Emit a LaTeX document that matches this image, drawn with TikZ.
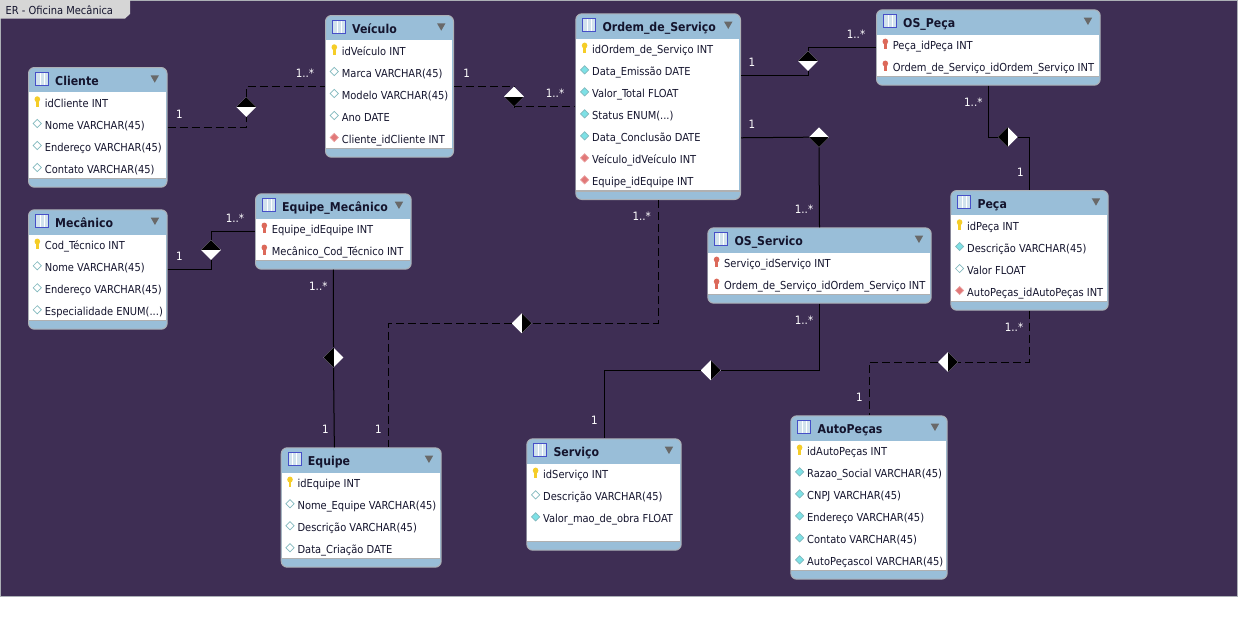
\documentclass[tikz,border=0pt]{standalone}
\usepackage{fontspec}
\setmainfont{DejaVu Sans Condensed}
\usetikzlibrary{positioning,calc,shapes.geometric}
\definecolor{erPurple}{RGB}{62,46,84}
\definecolor{erHead}{RGB}{153,190,216}
\definecolor{erEdge}{RGB}{172,176,182}
\definecolor{erRule}{RGB}{176,176,176}
\definecolor{erInk}{RGB}{20,20,45}
\definecolor{erTab}{RGB}{214,214,214}
\definecolor{erArrow}{RGB}{105,105,105}
\definecolor{erIcon}{RGB}{70,80,200}
\definecolor{erGold}{RGB}{245,205,40}
\definecolor{erCoral}{RGB}{220,105,90}
\definecolor{erTeal}{RGB}{130,185,190}
\definecolor{erCyan}{RGB}{125,225,230}
\definecolor{erPink}{RGB}{225,120,120}
\tikzset{
    ertable/.style={rectangle, rounded corners=6pt, draw=erEdge, line width=1pt, fill=erHead, anchor=north west, inner sep=0pt},
    erbody/.style={rectangle, fill=white, anchor=north west, inner sep=0pt},
    ertitle/.style={anchor=base west, inner sep=0pt, font=\fontsize{12.2}{14}\selectfont\bfseries, text=erInk},
    errow/.style={anchor=base west, inner sep=0pt, font=\fontsize{11}{13}\selectfont, text=erInk},
    erglyph/.style={rectangle, draw=erIcon, line width=1pt, fill=erHead!45, minimum size=13pt, inner sep=0pt,
                    path picture={\draw[white, line width=.7pt] ([xshift=-2pt]path picture bounding box.north) -- ([xshift=-2pt]path picture bounding box.south)
                                  ([xshift=2pt]path picture bounding box.north) -- ([xshift=2pt]path picture bounding box.south);}},
    keypin/.style={rectangle, minimum width=7pt, minimum height=10.5pt, inner sep=0pt,
                   path picture={\fill[#1] ([yshift=-3pt]path picture bounding box.north) circle[x radius=2.8pt, y radius=3pt];
                                 \fill[#1] ([xshift=-1.2pt,yshift=-4pt]path picture bounding box.north) rectangle ([xshift=1.2pt]path picture bounding box.south);}},
    pkey/.style={keypin=erGold},
    fkey/.style={keypin=erCoral},
    coldot/.style={diamond, minimum width=8.5pt, minimum height=8.5pt, inner sep=0pt, line width=.7pt, draw=erTeal},
    plain/.style={coldot, fill=white},
    notnull/.style={coldot, fill=erCyan},
    fcol/.style={coldot, draw=erPink!70, fill=erPink},
    rel/.style={diamond, minimum width=20pt, minimum height=20pt, inner sep=0pt, fill=white},
    reltop/.style={rel, path picture={\fill[black] (path picture bounding box.north west) rectangle (path picture bounding box.east);}},
    relbottom/.style={rel, path picture={\fill[black] (path picture bounding box.west) rectangle (path picture bounding box.south east);}},
    relleft/.style={rel, path picture={\fill[black] (path picture bounding box.north west) rectangle (path picture bounding box.south);}},
    relright/.style={rel, path picture={\fill[black] (path picture bounding box.north) rectangle (path picture bounding box.south east);}},
    solidlink/.style={line width=1pt, color=black},
    dashlink/.style={solidlink, dash pattern=on 8pt off 4pt},
    card/.style={inner sep=0pt, text=white, font=\fontsize{11.5}{13}\selectfont}
}
\def\edots{...}
% name, x0, y0, x1, y1, title, rows
\newcommand{\ertable}[7]{
  \node[ertable, minimum width={(#4-#2)*1pt}, minimum height={(#5-#3)*1pt}] (#1) at (#2,#3) {};
  \node[erbody, minimum width={(#4-#2-1.6)*1pt}, minimum height={(#5-#3-33.5)*1pt}] (#1-body) at ({#2+.8},{#3+25}) {};
  \draw[erRule, line width=1.4pt] (#1-body.south west) -- (#1-body.south east);
  \node[erglyph] (#1-glyph) at ({#2+14},{#3+12}) {};
  \node[ertitle] (#1-title) at ({#2+27},{#3+18}) {#6};
  \fill[erArrow] ({#4-16},{#3+8.3}) -- ({#4-7.5},{#3+8.3}) -- ({#4-11.75},{#3+15.7}) -- cycle;
  \foreach \kind/\txt [count=\i] in {#7} {
    \pgfmathsetmacro{\rowy}{#3+40+22*(\i-1)}
    \node[\kind] (#1-icon\i) at ({#2+9.3},{\rowy-5.5}) {};
    \node[errow] (#1-row\i) at ({#2+16.7},\rowy) {\txt};
  }
}
\begin{document}
\begin{tikzpicture}[x=1pt,y=-1pt]
  \useasboundingbox (0,0) rectangle (1257,616);
  \fill[white] (0,0) rectangle (1257,616);
  \filldraw[fill=erPurple, draw=erEdge, line width=1pt] (.5,.5) rectangle (1237,596.7);

  % Tab
  \fill[erTab] (0,0) -- (130,0) -- (130,14) -- (125,18.5) -- (0,18.5) -- cycle;
  \node[anchor=base west, inner sep=0pt, font=\fontsize{11}{13}\selectfont, text=erInk] (tabname) at (5.5,14) {ER - Oficina Mecânica};

  % Tables
  \ertable{cliente}{28}{67}{166.5}{186.7}{Cliente}{pkey/idCliente INT, plain/Nome VARCHAR(45), plain/Endereço VARCHAR(45), plain/Contato VARCHAR(45)}
  \ertable{veiculo}{325}{15}{453}{156.7}{Veículo}{pkey/idVeículo INT, plain/Marca VARCHAR(45), plain/Modelo VARCHAR(45), plain/Ano DATE, fcol/Cliente\_idCliente INT}
  \ertable{ordem}{575.3}{13.3}{740}{199}{Ordem\_de\_Serviço}{pkey/idOrdem\_de\_Serviço INT, notnull/Data\_Emissão DATE, notnull/Valor\_Total FLOAT, notnull/Status ENUM(\edots), notnull/Data\_Conclusão DATE, fcol/Veículo\_idVeículo INT, fcol/Equipe\_idEquipe INT}
  \ertable{ospeca}{876}{9.3}{1099.7}{84.7}{OS\_Peça}{fkey/Peça\_idPeça INT, fkey/Ordem\_de\_Serviço\_idOrdem\_Serviço INT}
  \ertable{peca}{950.3}{190}{1107.7}{309.7}{Peça}{pkey/idPeça INT, notnull/Descrição VARCHAR(45), plain/Valor FLOAT, fcol/AutoPeças\_idAutoPeças INT}
  \ertable{mecanico}{28}{209.3}{166.7}{328.7}{Mecânico}{pkey/Cod\_Técnico INT, plain/Nome VARCHAR(45), plain/Endereço VARCHAR(45), plain/Especialidade ENUM(\edots)}
  \ertable{eqmec}{255}{193.3}{410.7}{268.7}{Equipe\_Mecânico}{fkey/Equipe\_idEquipe INT, fkey/Mecânico\_Cod\_Técnico INT}
  \ertable{equipe}{280.7}{447.3}{440.7}{566.7}{Equipe}{pkey/idEquipe INT, plain/Nome\_Equipe VARCHAR(45), plain/Descrição VARCHAR(45), plain/Data\_Criação DATE}
  \ertable{osservico}{707.3}{227.3}{930.7}{302.7}{OS\_Servico}{fkey/Serviço\_idServiço INT, fkey/Ordem\_de\_Serviço\_idOrdem\_Serviço INT}
  \ertable{servico}{526.3}{438.3}{680.7}{549.7}{Serviço}{pkey/idServiço INT, plain/Descrição VARCHAR(45), notnull/Valor\_mao\_de\_obra FLOAT}
  \ertable{autopecas}{790.3}{415.3}{946.7}{578.7}{AutoPeças}{pkey/idAutoPeças INT, notnull/Razao\_Social VARCHAR(45), notnull/CNPJ VARCHAR(45), notnull/Endereço VARCHAR(45), notnull/Contato VARCHAR(45), notnull/AutoPeçascol VARCHAR(45)}

  % Relationship diamonds
  \node[reltop] (relCV) at (246.3,107) {};
  \node[relbottom] (relVO) at (514,96.5) {};
  \node[reltop] (relOP) at (808,61) {};
  \node[relbottom] (relOS) at (819,137.2) {};
  \node[relleft] (relPP) at (1007.7,137) {};
  \node[relright] (relPA) at (948,362) {};
  \node[relright] (relSS) at (710.7,370.3) {};
  \node[reltop] (relME) at (211,250) {};
  \node[relleft] (relEE) at (333.5,357.5) {};
  \node[relright] (relOE) at (521.7,323.3) {};

  % Links
  \draw[dashlink] (cliente.east) -| (relCV.south);
  \draw[dashlink] (relCV.north) |- (veiculo.west);
  \draw[dashlink] (veiculo.east) -| (relVO.north);
  \draw[dashlink] (relVO.south) |- (ordem.west);
  \draw[solidlink] ($(ordem.north east)!1/3!(ordem.south east)$) -| (relOP.south);
  \draw[solidlink] (relOP.north) |- (ospeca.west);
  \draw[solidlink] ($(ordem.north east)!2/3!(ordem.south east)$) -- (relOS.west);
  \draw[solidlink] (relOS.south) -- (osservico.north);
  \draw[solidlink] (ospeca.south) |- (relPP.west);
  \draw[solidlink] (relPP.east) -| (peca.north);
  \draw[dashlink] (peca.south) |- (relPA.east);
  \draw[dashlink] (relPA.west) -| (autopecas.north);
  \draw[solidlink] (osservico.south) |- (relSS.east);
  \draw[solidlink] (relSS.west) -| (servico.north);
  \draw[solidlink] (mecanico.east) -| (relME.south);
  \draw[solidlink] (relME.north) |- (eqmec.west);
  \draw[solidlink] (eqmec.south) -- (relEE.north);
  \draw[solidlink] (relEE.south) -- ($(equipe.north west)!1/3!(equipe.north east)$);
  \draw[dashlink] (ordem.south) |- (relOE.east);
  \draw[dashlink] (relOE.west) -| ($(equipe.north west)!2/3!(equipe.north east)$);

  % Cardinalities
  \node[card] (cardA) at (179.5,114.7) {1};
  \node[card] (cardB) at (305,73) {1..*};
  \node[card] (cardC) at (466.7,73) {1};
  \node[card] (cardD) at (555,93) {1..*};
  \node[card] (cardE) at (752,62) {1};
  \node[card] (cardF) at (856,34) {1..*};
  \node[card] (cardG) at (752,124.7) {1};
  \node[card] (cardH) at (804,209) {1..*};
  \node[card] (cardI) at (641.7,216) {1..*};
  \node[card] (cardJ) at (973.3,102) {1..*};
  \node[card] (cardK) at (1020.3,172.3) {1};
  \node[card] (cardL) at (1014,327) {1..*};
  \node[card] (cardM) at (859.3,397.7) {1};
  \node[card] (cardN) at (804,320) {1..*};
  \node[card] (cardO) at (594.3,420.7) {1};
  \node[card] (cardP) at (179.3,256.7) {1};
  \node[card] (cardQ) at (235,218.3) {1..*};
  \node[card] (cardR) at (318.3,286.7) {1..*};
  \node[card] (cardS) at (325.3,429.3) {1};
  \node[card] (cardT) at (378.3,429.3) {1};
\end{tikzpicture}
\end{document}
